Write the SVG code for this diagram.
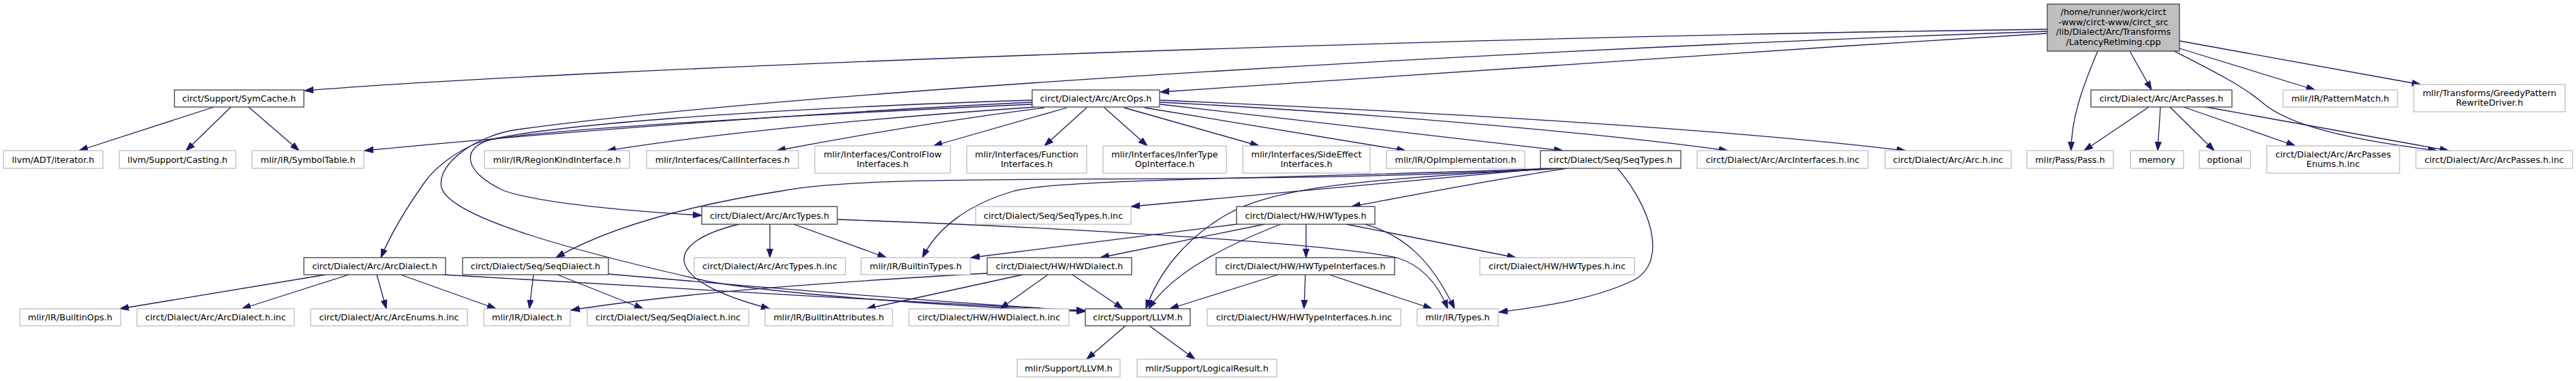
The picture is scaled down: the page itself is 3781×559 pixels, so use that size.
<svg xmlns="http://www.w3.org/2000/svg" width="3781" height="559" viewBox="0 0 3781 559">
<style>
.n rect{fill:#ffffff;stroke:#bfbfbf;stroke-width:1.3}
.d rect{stroke:#404040}
.m rect{fill:#bfbfbf;stroke:#404040}
text{font-family:"DejaVu Sans","Liberation Sans",sans-serif;font-size:12.8px;fill:#000;text-anchor:middle}
.e path{fill:none;stroke:#191970;stroke-width:1.3;marker-end:url(#a)}
</style>
<defs>
<marker id="a" markerUnits="userSpaceOnUse" markerWidth="14" markerHeight="10" refX="13" refY="5" orient="auto">
<path d="M0,0.5 L13,5 L0,9.5 z" fill="#191970" stroke="#191970" stroke-width="1"/>
</marker>
</defs>
<rect x="0" y="0" width="3781" height="559" fill="#ffffff"/>
<g id="edges" class="e">
<path d="M3005,43 C2100,54 847,101 447,133"/>
<path d="M3005,46 C2300,70 1200,130 760,190 C700,198 640,240 648,275 C660,320 850,370 1040,413 C1150,432 1400,450 1593,457"/>
<path d="M3005,49 C2500,80 1900,120 1703,135"/>
<path d="M3079,75 C3060,120 3040,170 3040,221"/>
<path d="M3126,75 L3158,132"/>
<path d="M3199,71 L3398,132"/>
<path d="M3199,60 L3553,124"/>
<path d="M3191,75 C3250,105 3290,125 3320,150 C3360,185 3450,205 3577,221"/>
<path d="M3154,157 L3059,221"/>
<path d="M3171,157 L3167,221"/>
<path d="M3185,157 L3250,221"/>
<path d="M3205,157 L3369,214"/>
<path d="M3238,157 L3594,221"/>
<path d="M314,157 L116,221"/>
<path d="M339,157 L273,221"/>
<path d="M365,157 L439,221"/>
<path d="M1515,150 C1200,165 800,195 535,221"/>
<path d="M1515,147 C1100,160 780,185 700,210 C670,222 640,245 625,265 C600,300 575,340 559,378"/>
<path d="M1515,153 C1150,170 800,190 720,205 C680,215 675,250 740,280 C800,300 930,310 1030,316"/>
<path d="M1520,157 C1300,172 1050,195 891,221"/>
<path d="M1533,158 C1400,175 1250,200 1140,221"/>
<path d="M1566,158 L1370,214"/>
<path d="M1595,158 L1533,214"/>
<path d="M1621,158 L1684,214"/>
<path d="M1650,158 L1848,214"/>
<path d="M1680,158 L2063,221"/>
<path d="M1703,153 L2294,221"/>
<path d="M1703,150 C2000,165 2350,195 2536,221"/>
<path d="M1703,147 C2000,160 2500,185 2797,221"/>
<path d="M478,403 L176,453"/>
<path d="M512,403 L355,453"/>
<path d="M553,403 L567,453"/>
<path d="M588,403 L728,453"/>
<path d="M650,403 C900,420 1300,440 1593,456"/>
<path d="M783,403 L777,453"/>
<path d="M818,403 L944,453"/>
<path d="M893,402 C1100,420 1400,445 1593,456"/>
<path d="M1130,329 L1130,378"/>
<path d="M1085,329 C975,355 965,410 1130,453"/>
<path d="M1165,329 L1301,378"/>
<path d="M1229,322 C1600,335 1950,358 2050,378 C2090,390 2112,420 2125,453"/>
<path d="M2290,247 C1800,275 1300,250 1148,280 C1020,300 900,330 816,378"/>
<path d="M2280,247 C1900,262 1560,262 1489,280 C1420,300 1375,335 1354,378"/>
<path d="M2270,247 L1660,303"/>
<path d="M2300,247 C2200,262 2080,285 1984,303"/>
<path d="M2295,247 C2000,262 1870,275 1800,315 C1740,350 1700,400 1682,453"/>
<path d="M2374,247 C2420,300 2450,380 2400,410 C2340,440 2260,450 2200,458"/>
<path d="M1815,329 L1425,378"/>
<path d="M1856,329 L1615,378"/>
<path d="M1880,329 C1800,360 1720,400 1686,453"/>
<path d="M1917,329 L1917,378"/>
<path d="M1976,329 L2225,378"/>
<path d="M2004,329 C2060,345 2100,380 2135,453"/>
<path d="M1449,401 C1200,415 1000,430 838,455"/>
<path d="M1501,403 L1272,453"/>
<path d="M1538,403 L1468,453"/>
<path d="M1574,403 L1648,453"/>
<path d="M1876,403 L1717,453"/>
<path d="M1916,403 L1914,453"/>
<path d="M1951,403 L2102,453"/>
<path d="M1652,478 L1595,527"/>
<path d="M1687,478 L1754,527"/>
</g>
<g id="main" class="n m"><rect x="3005" y="6" width="194" height="69"/>
<text x="3102" y="22">/home/runner/work/circt</text><text x="3102" y="36.7">-www/circt-www/circt_src</text><text x="3102" y="51.3">/lib/Dialect/Arc/Transforms</text><text x="3102" y="66">/LatencyRetiming.cpp</text></g>
<g id="symcache" class="n d"><rect x="256" y="132" width="190" height="25"/><text x="351" y="149">circt/Support/SymCache.h</text></g>
<g id="arcops" class="n d"><rect x="1515" y="132" width="187" height="25"/><text x="1608.5" y="149">circt/Dialect/Arc/ArcOps.h</text></g>
<g id="arcpasses" class="n d"><rect x="3069" y="132" width="207" height="25"/><text x="3172.5" y="149">circt/Dialect/Arc/ArcPasses.h</text></g>
<g id="patternmatch" class="n"><rect x="3351" y="132" width="168" height="25"/><text x="3435" y="149">mlir/IR/PatternMatch.h</text></g>
<g id="greedy" class="n"><rect x="3543" y="124" width="222" height="40"/><text x="3654" y="140.7">mlir/Transforms/GreedyPattern</text><text x="3654" y="155.3">RewriteDriver.h</text></g>
<g id="iterator" class="n"><rect x="5" y="221" width="146" height="26"/><text x="78" y="238.5">llvm/ADT/iterator.h</text></g>
<g id="casting" class="n"><rect x="175" y="221" width="171" height="26"/><text x="260.5" y="238.5">llvm/Support/Casting.h</text></g>
<g id="symboltable" class="n"><rect x="370" y="221" width="164" height="26"/><text x="452" y="238.5">mlir/IR/SymbolTable.h</text></g>
<g id="regionkind" class="n"><rect x="711" y="221" width="213" height="26"/><text x="817.5" y="238.5">mlir/IR/RegionKindInterface.h</text></g>
<g id="callinterfaces" class="n"><rect x="949" y="221" width="223" height="26"/><text x="1060.5" y="238.5">mlir/Interfaces/CallInterfaces.h</text></g>
<g id="controlflow" class="n"><rect x="1196" y="214" width="199" height="40"/><text x="1295.5" y="230.7">mlir/Interfaces/ControlFlow</text><text x="1295.5" y="245.3">Interfaces.h</text></g>
<g id="function" class="n"><rect x="1419" y="214" width="176" height="40"/><text x="1507" y="230.7">mlir/Interfaces/Function</text><text x="1507" y="245.3">Interfaces.h</text></g>
<g id="infertype" class="n"><rect x="1619" y="214" width="181" height="40"/><text x="1709.5" y="230.7">mlir/Interfaces/InferType</text><text x="1709.5" y="245.3">OpInterface.h</text></g>
<g id="sideeffect" class="n"><rect x="1824" y="214" width="187" height="40"/><text x="1917.5" y="230.7">mlir/Interfaces/SideEffect</text><text x="1917.5" y="245.3">Interfaces.h</text></g>
<g id="opimpl" class="n"><rect x="2035" y="221" width="203" height="26"/><text x="2136.5" y="238.5">mlir/IR/OpImplementation.h</text></g>
<g id="seqtypes" class="n d"><rect x="2261" y="221" width="206" height="26"/><text x="2364" y="238.5">circt/Dialect/Seq/SeqTypes.h</text></g>
<g id="arcinterfaces_inc" class="n"><rect x="2491" y="221" width="251" height="26"/><text x="2616.5" y="238.5">circt/Dialect/Arc/ArcInterfaces.h.inc</text></g>
<g id="arc_inc" class="n"><rect x="2767" y="221" width="185" height="26"/><text x="2859.5" y="238.5">circt/Dialect/Arc/Arc.h.inc</text></g>
<g id="pass" class="n"><rect x="2975" y="221" width="127" height="26"/><text x="3038.5" y="238.5">mlir/Pass/Pass.h</text></g>
<g id="memory" class="n"><rect x="3127" y="221" width="78" height="26"/><text x="3166" y="238.5">memory</text></g>
<g id="optional" class="n"><rect x="3228" y="221" width="75" height="26"/><text x="3265.5" y="238.5">optional</text></g>
<g id="arcpassesenums" class="n"><rect x="3327" y="214" width="195" height="40"/><text x="3424.5" y="230.7">circt/Dialect/Arc/ArcPasses</text><text x="3424.5" y="245.3">Enums.h.inc</text></g>
<g id="arcpasses_inc" class="n"><rect x="3546" y="221" width="230" height="26"/><text x="3661" y="238.5">circt/Dialect/Arc/ArcPasses.h.inc</text></g>
<g id="arctypes" class="n d"><rect x="1030" y="303" width="199" height="26"/><text x="1129.5" y="320.5">circt/Dialect/Arc/ArcTypes.h</text></g>
<g id="seqtypes_inc" class="n"><rect x="1432" y="303" width="228" height="26"/><text x="1546" y="320.5">circt/Dialect/Seq/SeqTypes.h.inc</text></g>
<g id="hwtypes" class="n d"><rect x="1815" y="303" width="203" height="26"/><text x="1916.5" y="320.5">circt/Dialect/HW/HWTypes.h</text></g>
<g id="arcdialect" class="n d"><rect x="446" y="378" width="208" height="25"/><text x="550" y="395">circt/Dialect/Arc/ArcDialect.h</text></g>
<g id="seqdialect" class="n d"><rect x="679" y="378" width="214" height="25"/><text x="786" y="395">circt/Dialect/Seq/SeqDialect.h</text></g>
<g id="arctypes_inc" class="n"><rect x="1019" y="378" width="222" height="25"/><text x="1130" y="395">circt/Dialect/Arc/ArcTypes.h.inc</text></g>
<g id="builtintypes" class="n"><rect x="1264" y="378" width="160" height="25"/><text x="1344" y="395">mlir/IR/BuiltinTypes.h</text></g>
<g id="hwdialect" class="n d"><rect x="1449" y="378" width="212" height="25"/><text x="1555" y="395">circt/Dialect/HW/HWDialect.h</text></g>
<g id="hwtypeinterfaces" class="n d"><rect x="1785" y="378" width="262" height="25"/><text x="1916" y="395">circt/Dialect/HW/HWTypeInterfaces.h</text></g>
<g id="hwtypes_inc" class="n"><rect x="2172" y="378" width="227" height="25"/><text x="2285.5" y="395">circt/Dialect/HW/HWTypes.h.inc</text></g>
<g id="builtinops" class="n"><rect x="29" y="453" width="148" height="25"/><text x="103" y="470">mlir/IR/BuiltinOps.h</text></g>
<g id="arcdialect_inc" class="n"><rect x="201" y="453" width="231" height="25"/><text x="316.5" y="470">circt/Dialect/Arc/ArcDialect.h.inc</text></g>
<g id="arcenums_inc" class="n"><rect x="456" y="453" width="230" height="25"/><text x="571" y="470">circt/Dialect/Arc/ArcEnums.h.inc</text></g>
<g id="dialect" class="n"><rect x="710" y="453" width="127" height="25"/><text x="773.5" y="470">mlir/IR/Dialect.h</text></g>
<g id="seqdialect_inc" class="n"><rect x="862" y="453" width="237" height="25"/><text x="980.5" y="470">circt/Dialect/Seq/SeqDialect.h.inc</text></g>
<g id="builtinattrs" class="n"><rect x="1123" y="453" width="187" height="25"/><text x="1216.5" y="470">mlir/IR/BuiltinAttributes.h</text></g>
<g id="hwdialect_inc" class="n"><rect x="1334" y="453" width="235" height="25"/><text x="1451.5" y="470">circt/Dialect/HW/HWDialect.h.inc</text></g>
<g id="llvm" class="n d"><rect x="1593" y="453" width="154" height="25"/><text x="1670" y="470">circt/Support/LLVM.h</text></g>
<g id="hwtypeinterfaces_inc" class="n"><rect x="1772" y="453" width="284" height="25"/><text x="1914" y="470">circt/Dialect/HW/HWTypeInterfaces.h.inc</text></g>
<g id="types" class="n"><rect x="2080" y="453" width="119" height="25"/><text x="2139.5" y="470">mlir/IR/Types.h</text></g>
<g id="mlirllvm" class="n"><rect x="1493" y="527" width="151" height="26"/><text x="1568.5" y="544.5">mlir/Support/LLVM.h</text></g>
<g id="logicalresult" class="n"><rect x="1669" y="527" width="205" height="26"/><text x="1771.5" y="544.5">mlir/Support/LogicalResult.h</text></g>
</svg>
